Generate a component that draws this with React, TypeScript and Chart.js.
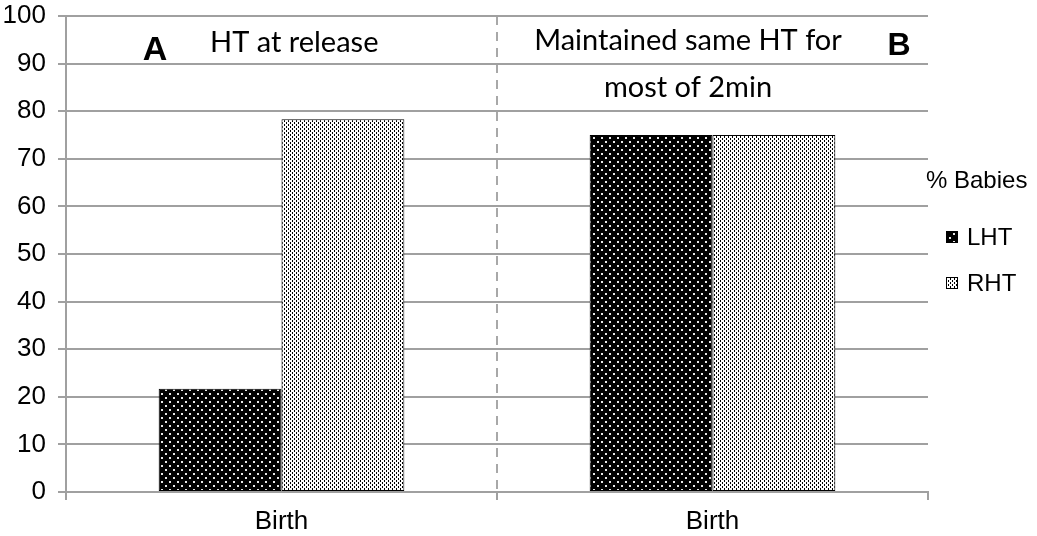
import React, { useEffect, useRef } from 'react';
import { Chart, registerables } from 'chart.js';

Chart.register(...registerables);

const categories = ['Birth', 'Birth'];
const seriesLabels = ['LHT', 'RHT'];
const lhtValues = [21.7, 75];
const rhtValues = [78.3, 75];
const yMin = 0;
const yMax = 100;
const yStep = 10;
const legendTitle = '% Babies';
const panelLetters = ['A', 'B'];
const panelTitleA = ['HT at release'];
const panelTitleB = ['Maintained same HT for', 'most of 2min'];

const SANS = '"Liberation Sans", Arial, sans-serif';
const CAL = 'Lato, "Open Sans", sans-serif';
const GRID = '#a0a0a0';

function makePattern(bg: string, fg: string, w: number, h: number, dots: number[][]): CanvasPattern | string {
  const c = document.createElement('canvas');
  c.width = w;
  c.height = h;
  const g = c.getContext('2d');
  if (!g) return bg;
  g.fillStyle = bg;
  g.fillRect(0, 0, w, h);
  g.fillStyle = fg;
  dots.forEach(([x, y, dw, dh]) => g.fillRect(x, y, dw, dh));
  const p = g.createPattern(c, 'repeat');
  return p || bg;
}

export default function App() {
  const ref = useRef<HTMLCanvasElement | null>(null);

  useEffect(() => {
    document.body.style.margin = '0';
    const canvas = ref.current;
    if (!canvas) return;

    const lhtPattern = makePattern('#000', '#e8e8e8', 8, 8, [[1, 1, 2, 2], [5, 5, 2, 2]]);
    const rhtPattern = makePattern('#fff', '#000', 4, 4, [[0, 0, 1, 2], [2, 2, 1, 2]]);
    const patterns = [lhtPattern, rhtPattern];

    const textPlugin = {
      id: 'panelText',
      afterDraw(chart: any) {
        const ctx = chart.ctx as CanvasRenderingContext2D;
        ctx.save();
        ctx.fillStyle = '#000';
        ctx.textBaseline = 'alphabetic';
        // panel letters
        ctx.textAlign = 'center';
        ctx.font = `bold 34px ${SANS}`;
        ctx.fillText(panelLetters[0], 155, 60);
        ctx.font = `bold 32px ${SANS}`;
        ctx.fillText(panelLetters[1], 899, 55);
        // panel titles
        ctx.font = `29px ${CAL}`;
        ctx.textAlign = 'left';
        ctx.fillText(panelTitleA[0], 210, 52);
        ctx.textAlign = 'center';
        ctx.fillText(panelTitleB[0], 688, 50);
        ctx.fillText(panelTitleB[1], 688, 97);
        // legend
        ctx.textAlign = 'left';
        ctx.font = `24px ${SANS}`;
        ctx.fillText(legendTitle, 926, 188);
        chart.data.datasets.forEach((ds: any, i: number) => {
          const by = 231 + i * 46;
          ctx.fillStyle = patterns[i] as any;
          ctx.fillRect(946, by, 12, 12);
          ctx.strokeStyle = '#000';
          ctx.lineWidth = 1;
          ctx.strokeRect(946.5, by + 0.5, 11, 11);
          ctx.fillStyle = '#000';
          ctx.fillText(ds.label, 967, by + 14);
        });
        ctx.restore();
      },
    };

    const chart = new Chart(canvas, {
      type: 'bar',
      data: {
        labels: categories,
        datasets: [
          {
            label: seriesLabels[0],
            data: lhtValues,
            backgroundColor: lhtPattern as any,
            borderColor: '#000',
            borderWidth: 1,
            borderSkipped: false,
            barPercentage: 1,
            categoryPercentage: 0.57,
          },
          {
            label: seriesLabels[1],
            data: rhtValues,
            backgroundColor: rhtPattern as any,
            borderColor: '#000',
            borderWidth: 1,
            borderSkipped: false,
            barPercentage: 1,
            categoryPercentage: 0.57,
          },
        ],
      },
      options: {
        animation: false,
        responsive: true,
        maintainAspectRatio: false,
        layout: { padding: { top: 16, right: 109, left: 0, bottom: 0 } },
        plugins: {
          legend: { display: false },
          tooltip: { enabled: false },
        },
        scales: {
          x: {
            grid: {
              offset: true,
              color: (c: any) => (c.index === 1 ? '#a8a8a8' : 'rgba(0,0,0,0)'),
              lineWidth: 2,
              tickColor: GRID,
              tickWidth: 2,
              tickLength: 8,
            },
            border: { color: GRID, width: 2, dash: [9, 7] },
            ticks: { font: { family: SANS, size: 26 }, color: '#000', padding: 6, maxRotation: 0 },
            afterFit: (s: any) => {
              s.height = 44;
              s.paddingLeft = 0;
              s.paddingRight = 0;
            },
          },
          y: {
            min: yMin,
            max: yMax,
            ticks: { stepSize: yStep, font: { family: SANS, size: 26 }, color: '#000', padding: 12 },
            grid: { color: GRID, lineWidth: 2, tickLength: 8 },
            border: { color: GRID, width: 2 },
            afterFit: (s: any) => {
              s.width = 66;
              s.paddingTop = 0;
              s.paddingBottom = 0;
            },
          },
        },
      },
      plugins: [textPlugin],
    });

    return () => chart.destroy();
  }, []);

  return (
    <div style={{ position: 'fixed', left: 0, top: 0, width: 1037, height: 536 }}>
      <canvas ref={ref} />
    </div>
  );
}
